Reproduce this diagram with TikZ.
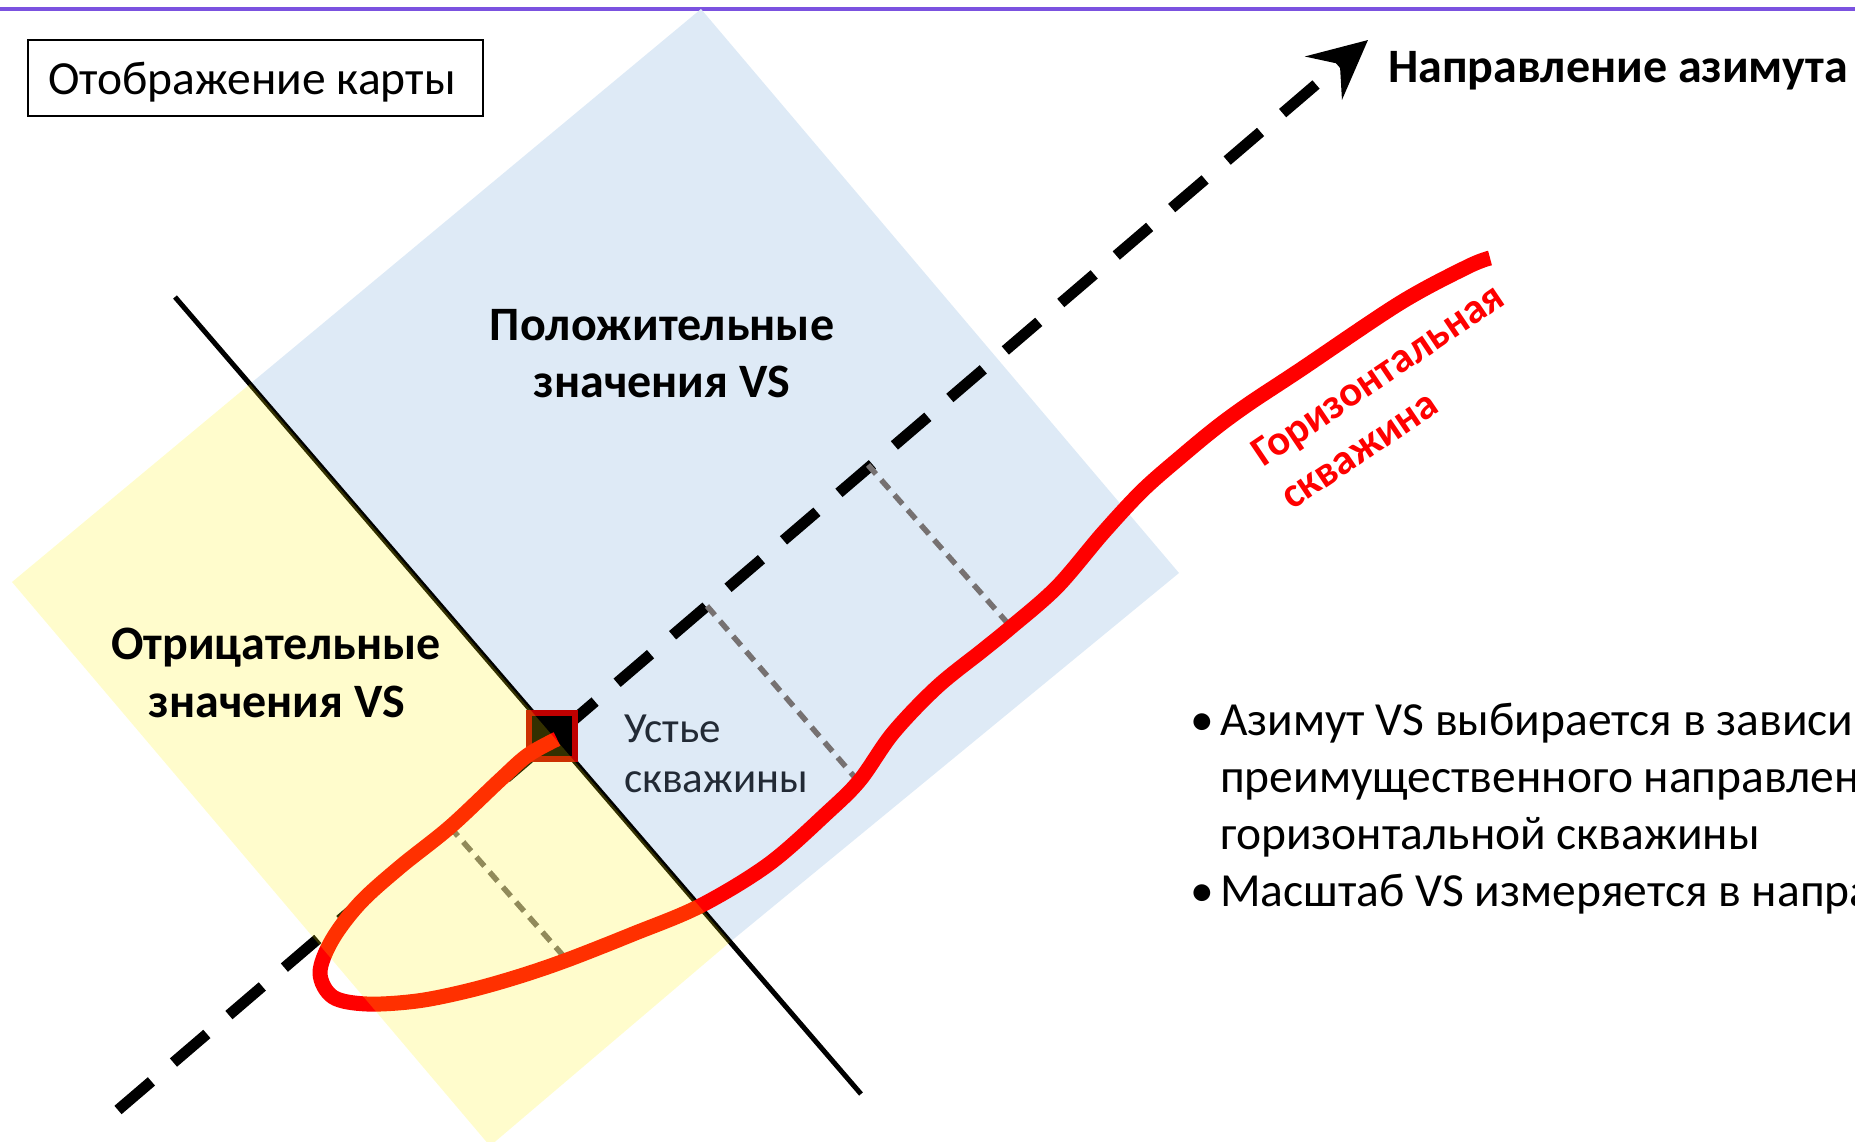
\documentclass[tikz,border=0pt]{standalone}
\usepackage{fontspec}
\setmainfont{Carlito}
\usetikzlibrary{arrows.meta}
\definecolor{vsblue}{HTML}{DEEAF6}
\definecolor{purpleline}{HTML}{7B52E0}
\definecolor{wellred}{HTML}{FF0000}
\definecolor{projgray}{HTML}{767171}
\definecolor{darkred}{HTML}{C00000}
\definecolor{navytext}{HTML}{222A35}
\begin{document}
\begin{tikzpicture}[x=1pt,y=-1pt,
  txt/.style={inner sep=0pt, font=\fontsize{47.5}{56}\selectfont},
  btxt/.style={inner sep=0pt, font=\fontsize{48}{56}\selectfont\bfseries},
  projline/.style={draw=projgray, line width=5.5pt, dash pattern=on 12pt off 8pt},
  azline/.style={draw=black, line width=11pt, dash pattern=on 44pt off 29pt},
  wellpath/.style={draw=wellred, line width=15pt, line join=round},
]
\useasboundingbox (0,0) rectangle (1855,1141);
\clip (0,0) rectangle (1855,1141);
% corners of the rotated field
\coordinate (T) at (701,9);
\coordinate (R) at (1179,573);
\coordinate (B) at (490,1146);
\coordinate (L) at (12,582);
\coordinate (P1) at (250,384);
\coordinate (P2) at (730,942);
% top rule
\coordinate (rule1) at (0,9);
\coordinate (rule2) at (1855,9);
\draw[purpleline, line width=3.5pt] (rule1) -- (rule2);
% positive region
\fill[vsblue] (T) -- (R) -- (P2) -- (P1) -- cycle;
% perpendicular line through wellhead
\coordinate (bl1) at (175,297);
\coordinate (bl2) at (861,1094);
\draw[black, line width=5pt] (bl1) -- (bl2);
% azimuth
\coordinate (az0) at (118,1110);
\coordinate (az1) at (1368,40);
\draw[azline, -{Stealth[length=58pt,width=56pt,inset=21pt]}] (az0) -- (az1);
% projection lines
\coordinate (g1a) at (450,827);
\coordinate (g1b) at (567,960);
\coordinate (g2a) at (707,606);
\coordinate (g2b) at (858,781);
\coordinate (g3a) at (868,465);
\coordinate (g3b) at (1011,627);
\draw[projline] (g1a) -- (g1b);
\draw[projline] (g2a) -- (g2b);
\draw[projline] (g3a) -- (g3b);
% wellhead
\node[draw=darkred, line width=6pt, fill=black, minimum size=46pt, inner sep=0pt] (wh) at (551.5,735.5) {};
% horizontal well
\draw[wellpath] plot[smooth, tension=0.55] coordinates {
 (557,739) (528,755) (500,780) (450,827) (400,867) (360,903) (332,940) (320,973)
 (333,997) (367,1004) (417,1001) (467,991) (517,977) (567,960) (633,934) (700,906)
 (769,864) (828,812) (860,780) (893,733) (937,687) (983,650) (1010,628) (1057,587)
 (1103,533) (1143,490) (1183,455) (1217,427) (1250,403) (1300,370) (1400,303)
 (1467,267) (1490,258)};
% negative region (translucent)
\fill[yellow, opacity=0.2] (P1) -- (L) -- (B) -- (P2) -- cycle;
% texts
\node[draw=black, line width=2pt, minimum width=455pt, minimum height=76pt, inner sep=0pt] (mapbox) at (255.5,78) {};
\node[txt, anchor=base] (maptitle) at (252,94) {Отображение карты};
\node[btxt, anchor=base west] (aztitle) at (1388,82) {Направление азимута};
\node[btxt, anchor=base] (pos1) at (662,340) {Положительные};
\node[btxt, anchor=base] (pos2) at (662,397) {значения VS};
\node[btxt, anchor=base] (neg1) at (276,659) {Отрицательные};
\node[btxt, anchor=base] (neg2) at (277,717) {значения VS};
\node[inner sep=0pt, font=\fontsize{43}{50}\selectfont, text=navytext, anchor=base west] (wh1) at (624,742) {Устье};
\node[inner sep=0pt, font=\fontsize{43}{50}\selectfont, text=navytext, anchor=base west] (wh2) at (624,792) {скважины};
\node[inner sep=0pt, font=\fontsize{42.5}{50}\selectfont\bfseries, text=wellred, rotate=34, anchor=base west] (hw1) at (1263,468) {Горизонтальная};
\node[inner sep=0pt, font=\fontsize{42.5}{50}\selectfont\bfseries, text=wellred, rotate=34, anchor=base west] (hw2) at (1292,511) {скважина};
\node[txt, anchor=base] (bul1) at (1202,735) {•};
\node[txt, anchor=base west] (b1) at (1220,735) {Азимут VS выбирается в зависимости от};
\node[txt, anchor=base west] (b2) at (1220,792) {преимущественного направления};
\node[txt, anchor=base west] (b3) at (1220,849) {горизонтальной скважины};
\node[txt, anchor=base] (bul2) at (1202,906) {•};
\node[txt, anchor=base west] (b4) at (1220,906) {Масштаб VS измеряется в направлении};
\end{tikzpicture}
\end{document}
